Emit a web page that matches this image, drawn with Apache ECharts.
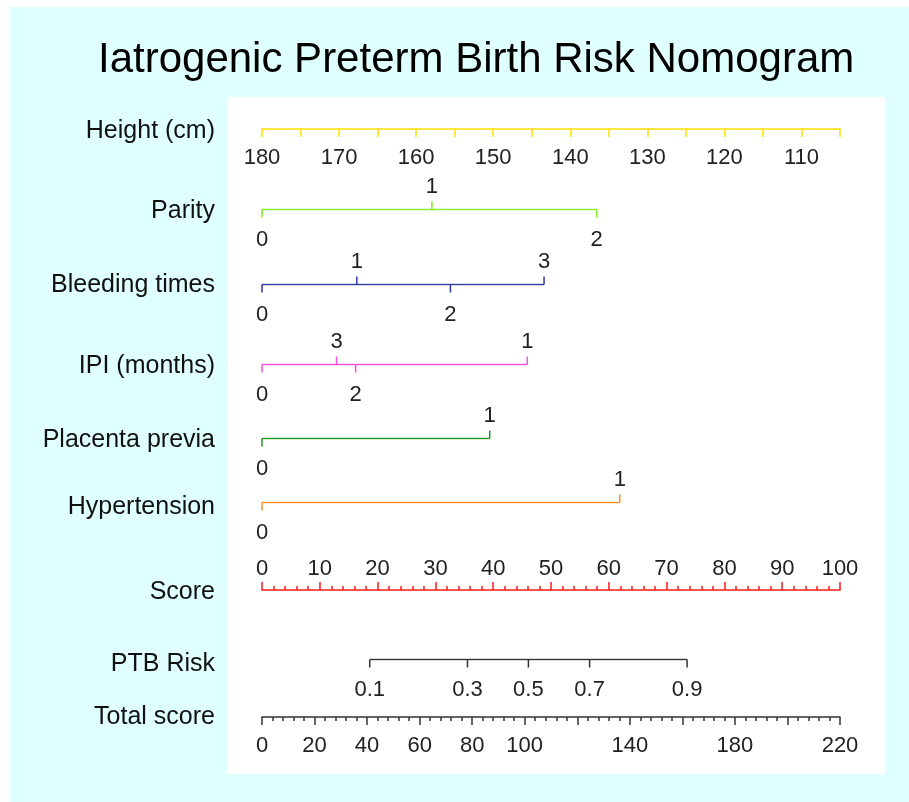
<!DOCTYPE html>
<html>
<head>
<meta charset="utf-8">
<script src="https://cdn.jsdelivr.net/npm/echarts@6/dist/echarts.min.js"></script>
<style>
  html, body { margin: 0; padding: 0; background: #fff; }
  #main { width: 909px; height: 802px; }
</style>
</head>
<body>
<div id="main"></div>
<script>
// row names, top to bottom
const varNames = ["Height (cm)", "Parity", "Bleeding times", "IPI (months)", "Placenta previa", "Hypertension", "Score", "PTB Risk", "Total score"];

// height axis: 180 cm = 0 points, 105 cm = 100 points
const heightMin = 105;
const heightMax = 180;
const heightLabels = [180, 170, 160, 150, 140, 130, 120, 110];

// points of each level
const parityLevels = ["0", "1", "2"];
const parityPoints = [0, 29.4, 57.9];
const bleedLevels = ["0", "1", "2", "3"];
const bleedPoints = [0, 16.4, 32.6, 48.8];
const ipiLevels = ["0", "1", "2", "3"];
const ipiPoints = [0, 45.9, 16.2, 12.9];
const placentaLevels = ["0", "1"];
const placentaPoints = [0, 39.4];
const hyperLevels = ["0", "1"];
const hyperPoints = [0, 61.9];

// total score axis and risk scale
const totalLabels = [0, 20, 40, 60, 80, 100, 140, 180, 220];
const riskLabels = ["0.1", "0.3", "0.5", "0.7", "0.9"];
const riskTotals = [41.0, 78.2, 101.4, 124.7, 161.8];

// layout
const rowY = [128, 209, 284, 364, 438, 502, 590, 659, 716];
const rowLabelShift = [3, 2, 1, 2, 2, 5, 2, 5, 1];
const colors = ["#ffe000", "#80ee22", "#2b3a9c", "#ff4ee0", "#1c981c", "#ff8c24", "#ff1a1a", "#333333", "#333333"];
const labelFont = "'Liberation Sans', Arial, sans-serif";
const tickFont = "'Liberation Sans', Arial, sans-serif";
const tickSize = 22;

const chart = echarts.init(document.getElementById("main"));

const grids = rowY.map(y => ({ left: 262, width: 578, top: y, height: 1 }));
const yAxes = rowY.map((y, i) => ({
  gridIndex: i,
  type: "category",
  data: [varNames[i]],
  axisLine: { show: false },
  axisTick: { show: false },
  axisLabel: {
    margin: 47, fontSize: 25, color: "#111", fontFamily: labelFont,
    verticalAlign: "top", lineHeight: rowLabelShift[i] * 2
  }
}));

function hidden(i, max) {
  return { gridIndex: i, type: "value", min: 0, max: max, show: false };
}

function shownAxis(i, extra) {
  const c = colors[i];
  return Object.assign({
    gridIndex: i, type: "value",
    axisLine: { show: true, onZero: false, lineStyle: { color: c, width: 1.5 } },
    axisTick: { show: true, length: 8, lineStyle: { color: c, width: 1.5 } },
    splitLine: { show: false }
  }, extra);
}

const xAxes = [
  shownAxis(0, {
    min: heightMin, max: heightMax, interval: 5, inverse: true, position: "bottom",
    axisLabel: { formatter: v => (heightLabels.includes(v) ? v : ""), margin: 18, fontSize: tickSize, color: "#222", fontFamily: tickFont }
  }),
  hidden(1, 100), hidden(2, 100), hidden(3, 100), hidden(4, 100), hidden(5, 100),
  shownAxis(6, {
    min: 0, max: 100, interval: 10, position: "top",
    minorTick: { show: true, splitNumber: 5, length: 4, lineStyle: { color: colors[6], width: 1.5 } },
    axisLabel: { margin: 10, fontSize: tickSize, color: "#222", fontFamily: tickFont }
  }),
  hidden(7, 220),
  shownAxis(8, {
    min: 0, max: 220, interval: 20, position: "bottom",
    minorTick: { show: true, splitNumber: 5, length: 4, lineStyle: { color: colors[8], width: 1.5 } },
    axisLabel: { formatter: v => (totalLabels.includes(v) ? v : ""), margin: 18, fontSize: tickSize, color: "#222", fontFamily: tickFont }
  })
];

// one bracketed scale: horizontal line + ticks with labels alternating below / above
function scaleSeries(i, levels, points, allBelow) {
  const order = points.map((p, k) => k).sort((a, b) => points[a] - points[b]);
  const side = [];
  order.forEach((k, r) => { side[k] = allBelow ? -1 : (r % 2 === 0 ? -1 : 1); });
  const color = colors[i];
  return [
    {
      type: "line", xAxisIndex: i, yAxisIndex: i, silent: true, symbol: "none",
      lineStyle: { color: color, width: 1.5 },
      data: [[Math.min(...points), 0], [Math.max(...points), 0]]
    },
    {
      type: "custom", xAxisIndex: i, yAxisIndex: i, silent: true,
      data: points.map((p, k) => [p, 0]),
      renderItem: function (params, api) {
        const k = params.dataIndex;
        const c = api.coord([api.value(0), api.value(1)]);
        const s = side[k];
        return {
          type: "group",
          children: [
            { type: "line", shape: { x1: c[0], y1: c[1], x2: c[0], y2: c[1] - s * 8 }, style: { stroke: color, lineWidth: 1.5 } },
            {
              type: "text",
              style: {
                text: levels[k], x: c[0], y: s > 0 ? c[1] - 23 : c[1] + 30,
                align: "center", verticalAlign: "middle",
                fontSize: tickSize, fontFamily: tickFont, fill: "#222"
              }
            }
          ]
        };
      }
    }
  ];
}

const series = [].concat(
  scaleSeries(1, parityLevels, parityPoints, false),
  scaleSeries(2, bleedLevels, bleedPoints, false),
  scaleSeries(3, ipiLevels, ipiPoints, false),
  scaleSeries(4, placentaLevels, placentaPoints, false),
  scaleSeries(5, hyperLevels, hyperPoints, false),
  scaleSeries(7, riskLabels, riskTotals, true)
);

chart.setOption({
  animation: false,
  backgroundColor: "#ffffff",
  title: {
    text: "Iatrogenic Preterm Birth Risk Nomogram",
    left: 93, top: 34,
    textStyle: { fontSize: 42, fontWeight: "normal", color: "#000", fontFamily: labelFont }
  },
  graphic: [
    { type: "rect", z: -10, shape: { x: 10, y: 7, width: 899, height: 795 }, style: { fill: "#e0ffff" } },
    { type: "rect", z: -9, shape: { x: 228, y: 97, width: 657, height: 677 }, style: { fill: "#ffffff" } }
  ],
  grid: grids,
  xAxis: xAxes,
  yAxis: yAxes,
  series: series
});
</script>
</body>
</html>
